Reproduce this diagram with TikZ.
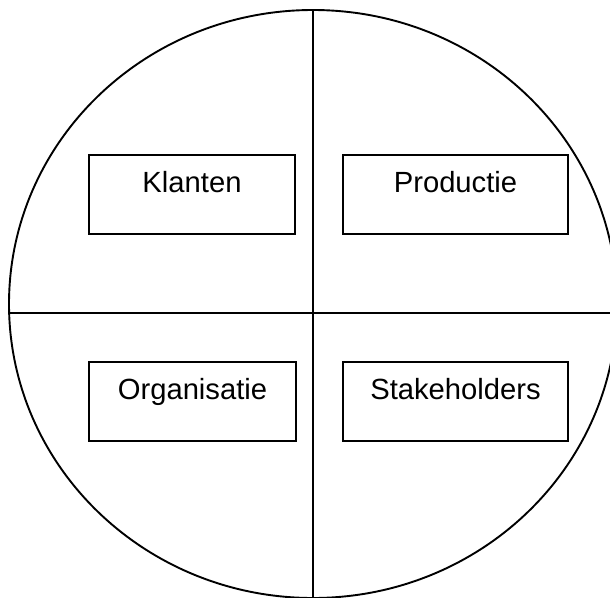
\documentclass[tikz,border=0pt]{standalone}
\usepackage{fontspec}
\setmainfont{Liberation Sans}
\usetikzlibrary{calc}
\begin{document}
\begin{tikzpicture}[x=1pt,y=-1pt,line width=1.9pt,
  qbox/.style={draw,rectangle,inner sep=0pt,minimum height=79pt},
  lbl/.style={anchor=base,inner sep=0pt,font=\fontsize{29.2}{34}\selectfont}]
\useasboundingbox (0,0) rectangle (610,597);
\clip (0,0) rectangle (610,597);
\fill[white] (0,0) rectangle (610,597);
\draw (313,304) ellipse [x radius=304, y radius=294];
\coordinate (top) at (313,10);
\coordinate (bot) at (313,600);
\coordinate (lft) at (9,313);
\coordinate (rgt) at (612,313);
\draw (top) -- (bot);
\draw (lft) -- (rgt);
\node[qbox,minimum width=206pt] (k) at (192,194.5) {};
\node[qbox,minimum width=225pt] (p) at (455.5,194.5) {};
\node[qbox,minimum width=207pt] (o) at (192.5,401.5) {};
\node[qbox,minimum width=225pt] (s) at (455.5,401.5) {};
\node[lbl] (kt) at ($(k.north)+(0,38)$) {Klanten};
\node[lbl] (pt) at ($(p.north)+(0,38)$) {Productie};
\node[lbl] (ot) at ($(o.north)+(0,38)$) {Organisatie};
\node[lbl] (st) at ($(s.north)+(0,38)$) {Stakeholders};
\end{tikzpicture}
\end{document}
